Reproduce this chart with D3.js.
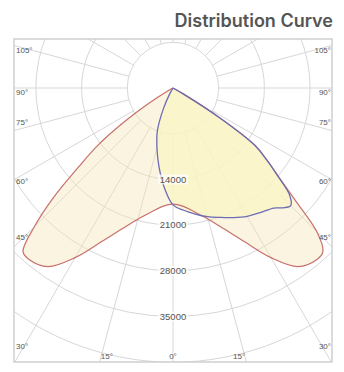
<!DOCTYPE html>
<html>
<head>
<meta charset="utf-8">
<script src="https://cdn.jsdelivr.net/npm/d3@7"></script>
<style>
  html, body { margin: 0; padding: 0; background: #ffffff; }
  svg { display: block; }
</style>
</head>
<body>
<svg id="chart" width="344" height="372"></svg>
<script>
// Luminous intensity (cd) versus signed vertical angle gamma (deg, 0 = nadir).
// C0-C180 plane (negative gamma = C180 side).
const gammaC0 = [-180, -90, -65, -60, -57.5, -55, -52.5, -50, -47.5, -45, -42.5, -40, -35,
                 -30, -25, -20, -15, -10, -5, 0, 5, 10, 15, 20, 25, 30, 35, 40, 42.5, 45,
                 47.5, 50, 52.5, 55, 57.5, 60, 65, 90, 180];
const cdC0    = [0, 0, 0, 800, 4300, 9500, 14800, 19000, 24800, 30000, 34000, 34300, 33400,
                 30000, 26000, 23000, 20800, 19300, 18200, 17800, 18200, 19300, 20800, 23000,
                 26000, 30000, 33400, 34300, 34000, 31200, 25300, 21100, 18100, 15300, 8400,
                 1800, 0, 0, 0];

// C90-C270 plane (negative gamma = C270 side).
const gammaC90 = [-180, -90, -40, -35, -30, -25, -20, -15, -10, -5, 0, 5, 10, 15, 20, 25,
                  30, 35, 40, 42.5, 45, 47.5, 50, 52.5, 55, 57.5, 60, 65, 90, 180];
const cdC90    = [0, 0, 0, 100, 900, 3400, 7000, 9500, 12300, 15300, 17900, 18800, 19600,
                  20400, 21100, 21900, 22700, 23300, 24000, 24900, 25500, 24200, 20900,
                  18100, 15300, 8400, 1800, 0, 0, 0];

const ringValues   = [7000, 14000, 21000, 28000, 35000, 42000, 49000, 56000, 63000];
const ringLabels   = [14000, 21000, 28000, 35000];
const sideAngles   = [105, 90, 75, 60, 45, 30];
const bottomAngles = [-15, 0, 15];

const svg = d3.select("#chart");
const frame = { x0: 14, y0: 39, x1: 332, y1: 362 };
const cx = 173, cy = 88;
const r = d3.scaleLinear().domain([0, 7000]).range([0, 45.7]);
const toRad = g => Math.PI - g * Math.PI / 180; // d3 radial angle: 0 = up, clockwise

// Title
svg.append("text")
  .attr("x", 333).attr("y", 27)
  .attr("text-anchor", "end")
  .attr("font-family", "Inter, 'Open Sans', sans-serif")
  .attr("font-weight", 600)
  .attr("font-size", 18)
  .attr("fill", "#555555")
  .text("Distribution Curve");

svg.append("defs").append("clipPath").attr("id", "plotClip")
  .append("rect")
  .attr("x", frame.x0).attr("y", frame.y0)
  .attr("width", frame.x1 - frame.x0).attr("height", frame.y1 - frame.y0);

const plot = svg.append("g").attr("clip-path", "url(#plotClip)");
const g = plot.append("g").attr("transform", `translate(${cx},${cy})`);

// Grid: rings
g.selectAll("circle.ring").data(ringValues).join("circle")
  .attr("class", "ring")
  .attr("r", d => r(d))
  .attr("fill", "none")
  .attr("stroke", "#d7d7d7")
  .attr("stroke-width", 1);

// Grid: radial lines every 15 degrees, starting at the first ring
const spokes = d3.range(-180, 180, 15);
g.selectAll("line.spoke").data(spokes).join("line")
  .attr("class", "spoke")
  .attr("x1", d => r(7000) * Math.sin(d * Math.PI / 180))
  .attr("y1", d => r(7000) * Math.cos(d * Math.PI / 180))
  .attr("x2", d => r(80000) * Math.sin(d * Math.PI / 180))
  .attr("y2", d => r(80000) * Math.cos(d * Math.PI / 180))
  .attr("stroke", "#d7d7d7")
  .attr("stroke-width", 1);

// Curves
const radial = d3.lineRadial()
  .angle(d => toRad(d.g))
  .radius(d => r(d.v))
  .curve(d3.curveCatmullRomClosed.alpha(0.5));

const ptsC0 = gammaC0.slice(0, -1).map((gm, i) => ({ g: gm, v: cdC0[i] }));
const ptsC90 = gammaC90.slice(0, -1).map((gm, i) => ({ g: gm, v: cdC90[i] }));

g.append("path").datum(ptsC0)
  .attr("d", radial)
  .attr("fill", "rgba(244, 229, 182, 0.42)")
  .attr("stroke", "none");
g.append("path").datum(ptsC90)
  .attr("d", radial)
  .attr("fill", "rgba(251, 245, 198, 0.8)")
  .attr("stroke", "none");
g.append("path").datum(ptsC0)
  .attr("d", radial)
  .attr("fill", "none")
  .attr("stroke", "#c8706c")
  .attr("stroke-width", 1.2);
g.append("path").datum(ptsC90)
  .attr("d", radial)
  .attr("fill", "none")
  .attr("stroke", "#6e6cb4")
  .attr("stroke-width", 1.3);

// Ring value labels along the nadir line
const rl = g.selectAll("g.rlabel").data(ringLabels).join("g")
  .attr("class", "rlabel")
  .attr("transform", d => `translate(0,${r(d)})`);
rl.append("rect")
  .attr("x", -15).attr("y", -5).attr("width", 30).attr("height", 10)
  .attr("fill", "#ffffff").attr("fill-opacity", 0.7);
rl.append("text")
  .attr("text-anchor", "middle")
  .attr("dy", "0.35em")
  .attr("font-family", "'Liberation Sans', Arial, sans-serif")
  .attr("font-size", 9.5)
  .attr("fill", "#555555")
  .text(d => d);

// Frame
svg.append("rect")
  .attr("x", frame.x0).attr("y", frame.y0)
  .attr("width", frame.x1 - frame.x0).attr("height", frame.y1 - frame.y0)
  .attr("fill", "none")
  .attr("stroke", "#cfcfcf")
  .attr("stroke-width", 1.5);

// Angle labels near where the spokes meet the frame
const labelFont = "'Liberation Sans', Arial, sans-serif";
const inset = 10;
const sideNudge = { 105: 2, 90: 4, 75: -6, 60: 7, 45: 0, 30: 0 };
function sideY(a) {
  const dx = (cx - frame.x0) - inset;
  const y = cy + dx / Math.tan(a * Math.PI / 180);
  return Math.min(y, frame.y1 - 10);
}
const sideData = sideAngles.flatMap(a => [{ a, side: -1 }, { a, side: 1 }]);
svg.selectAll("text.side").data(sideData).join("text")
  .attr("class", "side")
  .attr("x", d => d.side < 0 ? frame.x0 + 2 : frame.x1 - 1)
  .attr("y", d => sideY(d.a) + sideNudge[d.a])
  .attr("text-anchor", d => d.side < 0 ? "start" : "end")
  .attr("dy", "0.35em")
  .attr("font-family", labelFont)
  .attr("font-size", 8)
  .attr("fill", "#555555")
  .text(d => d.a + "°");

svg.selectAll("text.bottom").data(bottomAngles).join("text")
  .attr("class", "bottom")
  .attr("x", d => cx + (frame.y1 - cy) * Math.tan(d * Math.PI / 180) * 0.9)
  .attr("y", frame.y1 - 6)
  .attr("text-anchor", "middle")
  .attr("dy", "0.35em")
  .attr("font-family", labelFont)
  .attr("font-size", 8)
  .attr("fill", "#555555")
  .text(d => Math.abs(d) + "°");
</script>
</body>
</html>
